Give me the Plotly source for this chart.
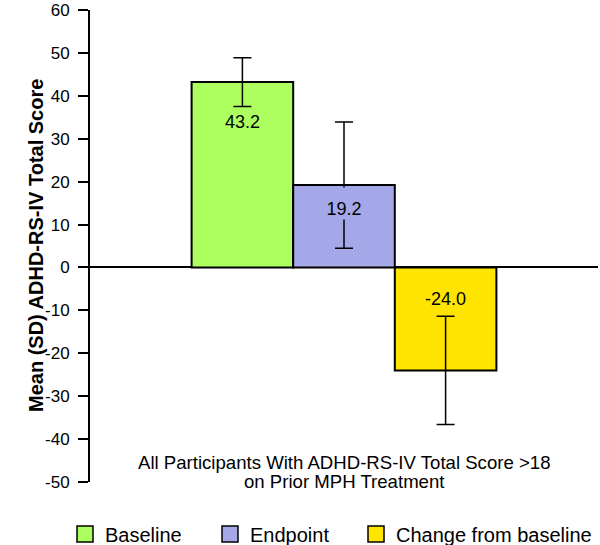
import plotly.graph_objects as go

category = ["All Participants With ADHD-RS-IV Total Score >18 on Prior MPH Treatment"]
series_names = ["Baseline", "Endpoint", "Change from baseline"]
means = [43.2, 19.2, -24.0]
sds = [5.7, 14.7, 12.6]
label_texts = ["43.2", "19.2", "-24.0"]
colors = ["#adff5f", "#a5a8e8", "#ffe400"]
label_shift = [-40, -23, -32]
tick_values = [-50, -40, -30, -20, -10, 0, 10, 20, 30, 40, 50, 60]
tick_labels = [str(v) for v in tick_values]

FONT = "Liberation Sans, Arial, Helvetica, sans-serif"
W, H = 600, 545
legend_ids = ["legend", "legend2", "legend3"]
legend_left_px = [65, 210, 356]

fig = go.Figure()
for name, m, sd, c, lg in zip(series_names, means, sds, colors, legend_ids):
    fig.add_trace(go.Bar(
        x=category, y=[m], name=name, showlegend=False,
        marker=dict(color=c, line=dict(color="black", width=2)),
        error_y=dict(type="data", array=[sd], visible=True, color="black", thickness=1.5, width=9),
    ))
    fig.add_trace(go.Scatter(
        x=[None], y=[None], mode="markers", name=name, legend=lg,
        marker=dict(symbol="square", size=16, color=c, line=dict(color="black", width=1.5)),
    ))

annotations = []
bar_w = 0.6 / len(means)
for i, (m, t, c, s) in enumerate(zip(means, label_texts, colors, label_shift)):
    top = max(m, 0)
    offset = (i - (len(means) - 1) / 2) * bar_w
    if i == 1:
        annotations.append(dict(
            x=offset, xref="x", y=top, yref="y", text=t, showarrow=False,
            yanchor="top", yshift=-2, height=31, valign="bottom", width=44,
            bgcolor=c, borderpad=0, font=dict(size=18, color="black", family=FONT)))
    else:
        annotations.append(dict(
            x=offset, xref="x", y=top, yref="y", text=t, showarrow=False,
            yanchor="middle", yshift=s, font=dict(size=18, color="black", family=FONT)))

cat_lines = ["All Participants With ADHD-RS-IV Total Score >18", "on Prior MPH Treatment"]
for j, line in enumerate(cat_lines):
    annotations.append(dict(
        x=0.5, xref="paper", y=-50, yref="y", yshift=20 - 19 * j, text=line,
        showarrow=False, yanchor="middle", xanchor="center",
        font=dict(size=18.6, color="black", family=FONT)))

annotations.append(dict(
    x=-54 / 508, xref="paper", y=0.5, yref="paper", text="<b>Mean (SD) ADHD-RS-IV Total Score</b>",
    textangle=-90, showarrow=False, xanchor="center", yanchor="middle",
    font=dict(size=20, color="black", family=FONT)))

legend_style = dict(orientation="h", xref="container", yref="container", y=1 - 534 / H,
                    xanchor="left", yanchor="middle",
                    font=dict(size=20, family=FONT, color="black"), bgcolor="rgba(0,0,0,0)")
layout_legends = {lg: dict(legend_style, x=px / W) for lg, px in zip(legend_ids, legend_left_px)}

fig.update_layout(
    width=W, height=H,
    margin=dict(l=90, r=2, t=10, b=63),
    paper_bgcolor="white", plot_bgcolor="white",
    barmode="group", bargap=0.4, bargroupgap=0,
    font=dict(family=FONT, color="black", size=17),
    showlegend=True,
    annotations=annotations,
    **layout_legends,
)
fig.update_xaxes(range=[-0.5, 0.5], showticklabels=False, showline=False, ticks="", showgrid=False, zeroline=False)
fig.update_yaxes(range=[-50, 60], tickmode="array", tickvals=tick_values, ticktext=tick_labels,
                 ticks="outside", ticklen=10, tickwidth=2, tickcolor="black", ticklabelstandoff=5,
                 ticklabeloverflow="allow",
                 showline=True, linewidth=2, linecolor="black", showgrid=False,
                 zeroline=True, zerolinecolor="black", zerolinewidth=2,
                 tickfont=dict(size=17, family=FONT, color="black"))

fig.write_html("out.html", config={"displayModeBar": False},
               post_script="document.body.style.margin='0px';")
